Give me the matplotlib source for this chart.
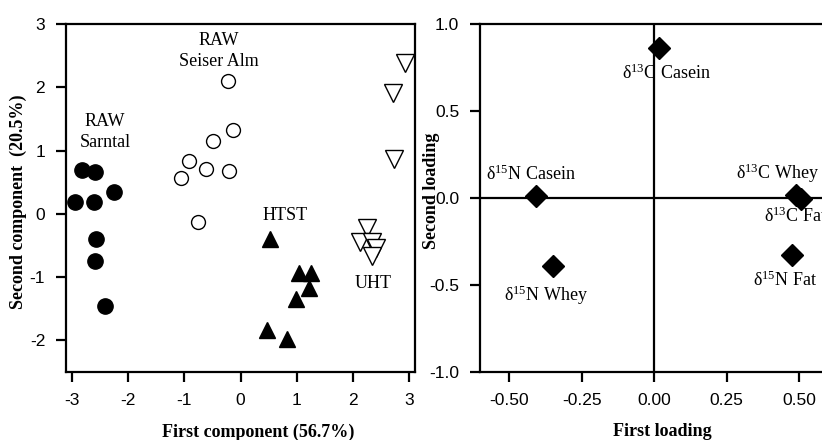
import numpy as np
import matplotlib
matplotlib.use("Agg")
import matplotlib.pyplot as plt

plt.rcParams['font.family'] = ['Liberation Sans', 'DejaVu Sans']
plt.rcParams['mathtext.fontset'] = 'custom'
plt.rcParams['mathtext.rm'] = 'Liberation Serif'
plt.rcParams['mathtext.it'] = 'Liberation Serif:italic'
plt.rcParams['axes.unicode_minus'] = False

SERIF = ['Liberation Serif', 'DejaVu Serif']

# score plot data (first / second component)
sarntal_x = [-2.81, -2.58, -2.94, -2.61, -2.24, -2.56, -2.58, -2.40]
sarntal_y = [0.70, 0.66, 0.19, 0.19, 0.34, -0.40, -0.74, -1.46]

seiser_x = [-0.23, -0.14, -0.48, -0.92, -0.62, -0.21, -1.05, -0.75]
seiser_y = [2.10, 1.33, 1.15, 0.83, 0.71, 0.67, 0.56, -0.13]

htst_x = [0.52, 1.04, 1.26, 1.22, 0.98, 0.47, 0.83]
htst_y = [-0.40, -0.93, -0.94, -1.17, -1.34, -1.83, -1.98]

uht_x = [2.92, 2.70, 2.72, 2.24, 2.12, 2.33, 2.40, 2.34]
uht_y = [2.38, 1.91, 0.86, -0.22, -0.44, -0.45, -0.54, -0.67]

# loading plot data
load_names = ['δ$^{13}$C Casein', 'δ$^{15}$N Casein', 'δ$^{15}$N Whey',
              'δ$^{13}$C Whey', 'δ$^{13}$C Fat', 'δ$^{15}$N Fat']
load_x = [0.016, -0.408, -0.350, 0.488, 0.505, 0.474]
load_y = [0.864, 0.011, -0.391, 0.017, -0.005, -0.328]

fig = plt.figure(figsize=(8.22, 4.40), dpi=100)
ax1 = fig.add_axes([0.0803, 0.1545, 0.4246, 0.791])
ax2 = fig.add_axes([0.584, 0.1545, 0.4237, 0.791])

for ax in (ax1, ax2):
    for s in ax.spines.values():
        s.set_linewidth(1.6)
    ax.tick_params(direction='out', length=7, width=1.6, labelsize=12.5, pad=8)

# ---- left: scores
ax1.plot(sarntal_x, sarntal_y, 'o', ms=11, mfc='black', mec='black', ls='none')
ax1.plot(seiser_x, seiser_y, 'o', ms=10, mfc='white', mec='black', mew=1.0, ls='none')
ax1.plot(htst_x, htst_y, '^', ms=12, mfc='black', mec='black', ls='none')
ax1.plot(uht_x, uht_y, 'v', ms=13, mfc='white', mec='black', mew=1.0, ls='none')

ax1.text(-2.41, 1.30, 'RAW\nSarntal', family=SERIF, fontsize=13, ha='center', va='center', linespacing=1.3)
ax1.text(-0.39, 2.57, 'RAW\nSeiser Alm', family=SERIF, fontsize=13, ha='center', va='center', linespacing=1.3)
ax1.text(0.80, -0.03, 'HTST', family=SERIF, fontsize=13, ha='center', va='center')
ax1.text(2.35, -1.10, 'UHT', family=SERIF, fontsize=13, ha='center', va='center')

ax1.set_xlim(-3.1, 3.1)
ax1.set_ylim(-2.5, 3)
ax1.set_xticks([-3, -2, -1, 0, 1, 2, 3])
ax1.set_yticks([-2, -1, 0, 1, 2, 3])
ax1.set_xlabel('First component (56.7%)', family=SERIF, fontweight='bold', fontsize=13, va='center')
ax1.set_ylabel('Second component  (20.5%)', family=SERIF, fontweight='bold', fontsize=13, va='center')
ax1.xaxis.set_label_coords(0.55, -0.172)
ax1.yaxis.set_label_coords(-0.1375, 0.49)

# ---- right: loadings
ax2.axhline(0, color='black', lw=1.6)
ax2.axvline(0, color='black', lw=1.6)
ax2.plot(load_x, load_y, 'D', ms=11, mfc='black', mec='black', ls='none', clip_on=False)

label_pos = [(-0.112, 0.717, 'left'), (-0.423, 0.136, 'center'), (-0.371, -0.557, 'center'),
             (0.282, 0.142, 'left'), (0.379, -0.107, 'left'), (0.451, -0.471, 'center')]
for name, (tx, ty, ha) in zip(load_names, label_pos):
    ax2.text(tx, ty, name, family=SERIF, fontsize=13, ha=ha, va='center')

ax2.set_xlim(-0.6, 0.6)
ax2.set_ylim(-1, 1)
ax2.set_xticks([-0.5, -0.25, 0, 0.25, 0.5])
ax2.set_xticklabels(['-0.50', '-0.25', '0.00', '0.25', '0.50'])
ax2.set_yticks([-1, -0.5, 0, 0.5, 1])
ax2.set_yticklabels(['-1.0', '-0.5', '0.0', '0.5', '1.0'])
ax2.set_xlabel('First loading', family=SERIF, fontweight='bold', fontsize=13, va='center')
ax2.set_ylabel('Second loading', family=SERIF, fontweight='bold', fontsize=13, va='center')
ax2.xaxis.set_label_coords(0.522, -0.172)
ax2.yaxis.set_label_coords(-0.138, 0.52)

fig.savefig('out.png', dpi=100)
